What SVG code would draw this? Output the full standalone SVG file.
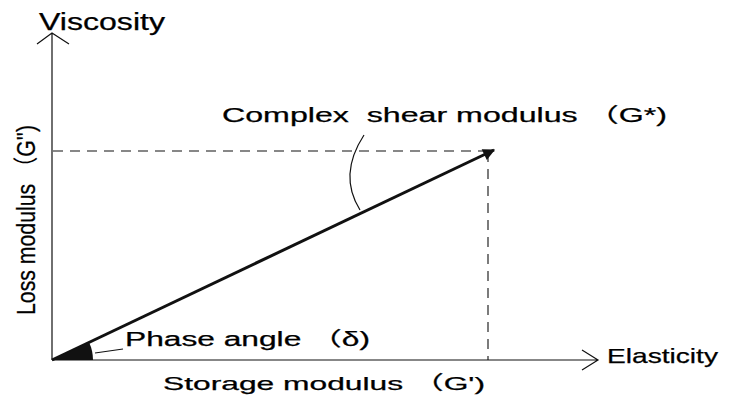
<svg xmlns="http://www.w3.org/2000/svg" width="735" height="401" viewBox="0 0 735 401">
<style>
text{font-family:"Liberation Sans","Noto Sans CJK SC",sans-serif;fill:#000;white-space:pre;stroke:#000;stroke-width:0.25}
.thin{stroke:#111;stroke-width:1.2;fill:none}
.dash{stroke:#111;stroke-width:1.1;fill:none;stroke-dasharray:10 7}
</style>
<defs>
<marker id="head" viewBox="0 0 10 10" refX="9" refY="5" markerWidth="5" markerHeight="4" orient="auto" markerUnits="strokeWidth">
<path d="M0,0 L10,5 L0,10 Z" fill="#111"/>
</marker>
</defs>
<rect width="735" height="401" fill="#fff"/>
<g id="connectors">
<path class="thin" d="M52,360 V33 M37,44 L52,33 L69,44"/>
<path class="thin" d="M52,360 H598 M582,350 L598,360 L582,370"/>
<path class="dash" d="M53,151 H490"/>
<path class="dash" d="M488,152 V360"/>
<line x1="52" y1="360" x2="494" y2="150" stroke="#111" stroke-width="3" marker-end="url(#head)"/>
<path class="thin" stroke-width="1" d="M364,135 Q338,175 360,210"/>
<path d="M52,360 L93,360 A41,41 0 0 0 89,342.3 Z" fill="#111"/>
<path class="thin" stroke-width="1" d="M95,353 L123,349"/>
</g>
<g id="viscosity"><text x="39" y="30" font-size="23" textLength="126" lengthAdjust="spacingAndGlyphs">Viscosity</text></g>
<g id="complex"><text x="222" y="122" font-size="20" textLength="445" lengthAdjust="spacingAndGlyphs">Complex  shear modulus （G*)</text></g>
<g id="phase"><text x="125" y="346" font-size="19.5" textLength="245" lengthAdjust="spacingAndGlyphs">Phase angle （δ)</text></g>
<g id="storage"><text x="163" y="390" font-size="19" textLength="322" lengthAdjust="spacingAndGlyphs">Storage modulus （G')</text></g>
<g id="elasticity"><text x="607" y="363" font-size="21" textLength="111" lengthAdjust="spacingAndGlyphs">Elasticity</text></g>
<g id="loss"><text transform="translate(35,315) rotate(-90)" font-size="25" textLength="190" lengthAdjust="spacingAndGlyphs">Loss modulus （G'')</text></g>
</svg>
